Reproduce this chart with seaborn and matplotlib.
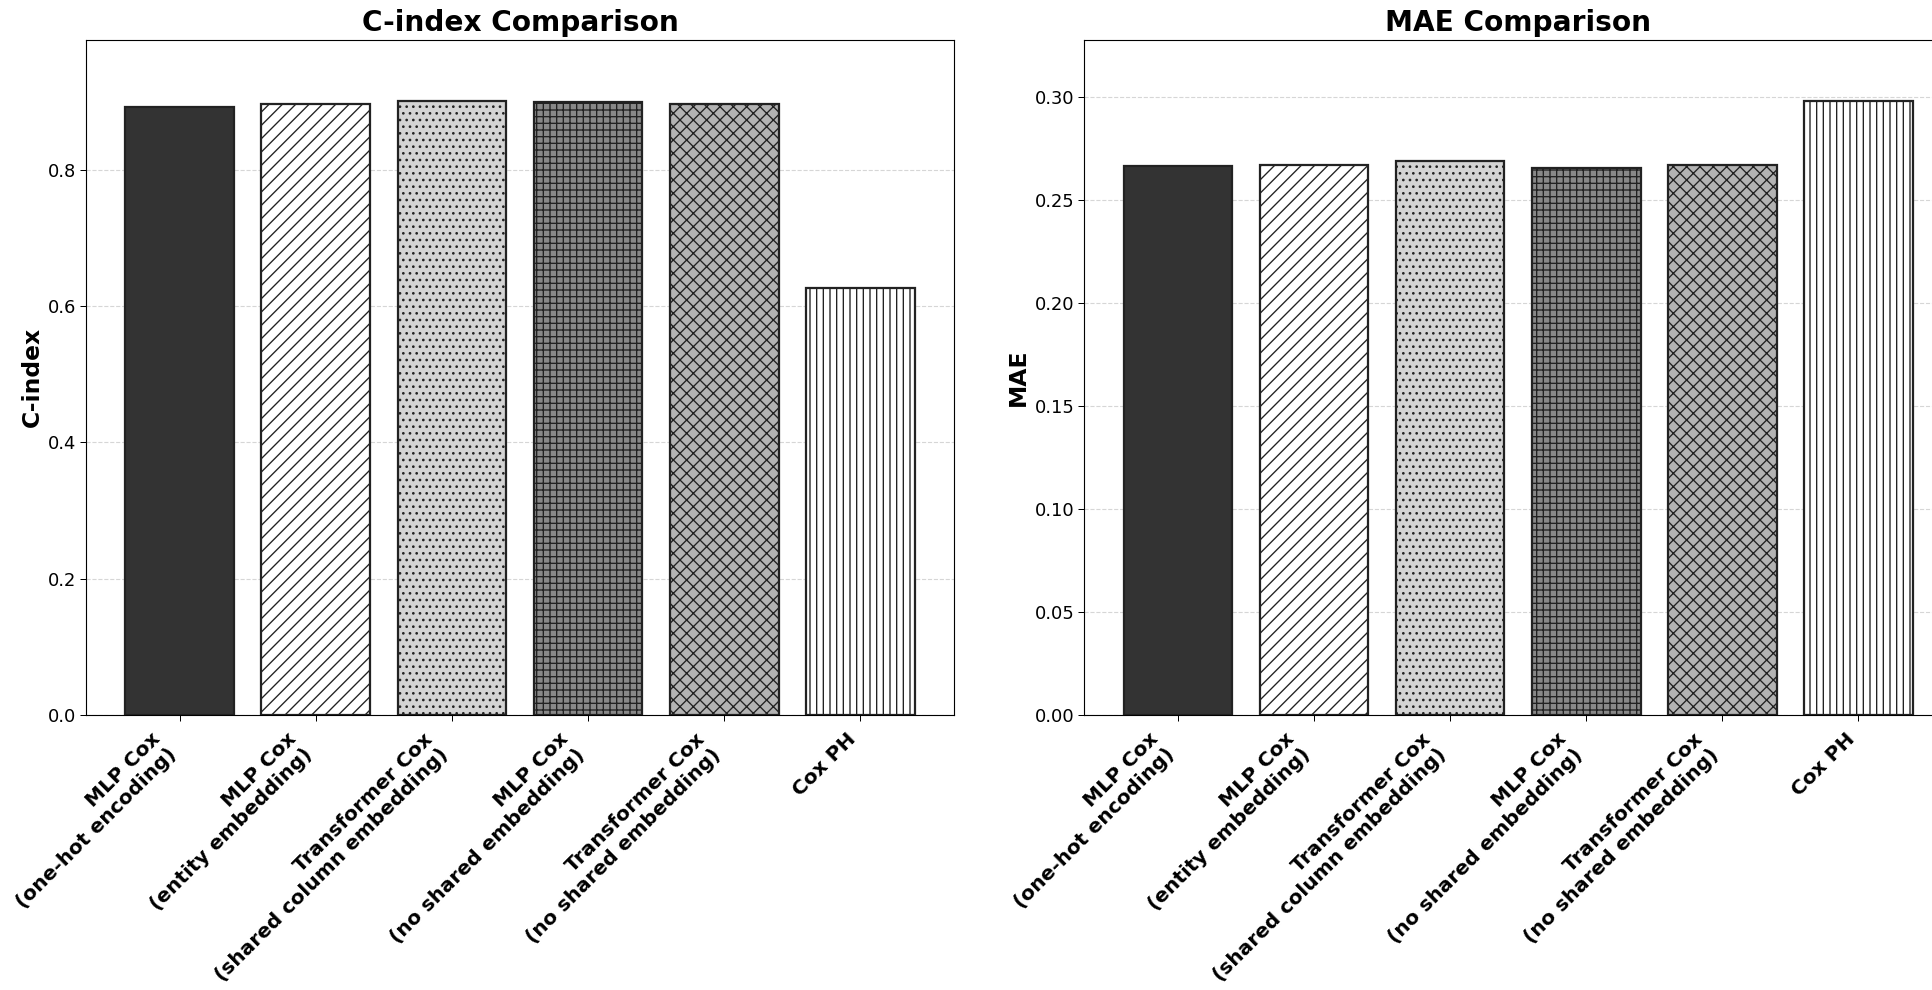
import pandas as pd
import numpy as np
import seaborn as sns
from matplotlib import pyplot as plt

# model names and scores
models = ['MLP Cox\n(one-hot encoding)', 'MLP Cox\n(entity embedding)',
          'Transformer Cox\n(shared column embedding)', 'MLP Cox\n(no shared embedding)',
          'Transformer Cox\n(no shared embedding)', 'Cox PH']
cindex = [0.892, 0.896, 0.901, 0.900, 0.897, 0.627]
mae = [0.2662, 0.2669, 0.2686, 0.2654, 0.2669, 0.2979]

fills = ['#333333', '#ffffff', '#d3d3d3', '#888888', '#b3b3b3', '#ffffff']
hatches = ['', '//', '..', '++', 'xx', '||']

sns.set_style('ticks')
plt.rcParams['font.family'] = ['DejaVu Sans']
plt.rcParams['text.color'] = 'black'
plt.rcParams['axes.labelcolor'] = 'black'
plt.rcParams['xtick.color'] = 'black'
plt.rcParams['ytick.color'] = 'black'
plt.rcParams['axes.edgecolor'] = 'black'
plt.rcParams['hatch.color'] = '#222222'
plt.rcParams['hatch.linewidth'] = 1.2

DPI = 80.5
fig = plt.figure(figsize=(1932 / DPI, 990 / DPI), dpi=DPI)
ax1 = fig.add_axes([0.0445, 0.278, 0.4493, 0.682])
ax2 = fig.add_axes([0.5611, 0.278, 0.4493, 0.682])


def draw_panel(ax, values, title, ylabel):
    df = pd.DataFrame({'model': models, 'value': values})
    sns.barplot(data=df, x='model', y='value', hue='model', palette=fills,
                legend=False, edgecolor='#222222', linewidth=2.0, width=0.8,
                saturation=1, ax=ax)
    for patch, h in zip(ax.patches, hatches):
        patch.set_hatch(h)
    ax.set_xlim(-0.69, len(models) - 0.31)
    ax.set_ylim(0, max(values) * 1.1)
    ax.set_title(title, fontsize=25, fontweight='bold', pad=8)
    ax.set_ylabel(ylabel, fontsize=21, fontweight='bold')
    ax.set_xlabel('')
    ax.grid(axis='y', linestyle='--', color='#cccccc', linewidth=1.0, alpha=0.8)
    ax.set_axisbelow(True)
    ax.tick_params(axis='both', length=5, width=0.9)
    ax.tick_params(axis='y', labelsize=16)
    ax.tick_params(axis='x', pad=8)
    plt.setp(ax.get_xticklabels(), rotation=45, ha='right', fontsize=18, fontweight='bold')
    for s in ax.spines.values():
        s.set_linewidth(1.0)
        s.set_color('black')


draw_panel(ax1, cindex, 'C-index Comparison', 'C-index')
draw_panel(ax2, mae, 'MAE Comparison', 'MAE')

fig.savefig('out.png', dpi=DPI)
